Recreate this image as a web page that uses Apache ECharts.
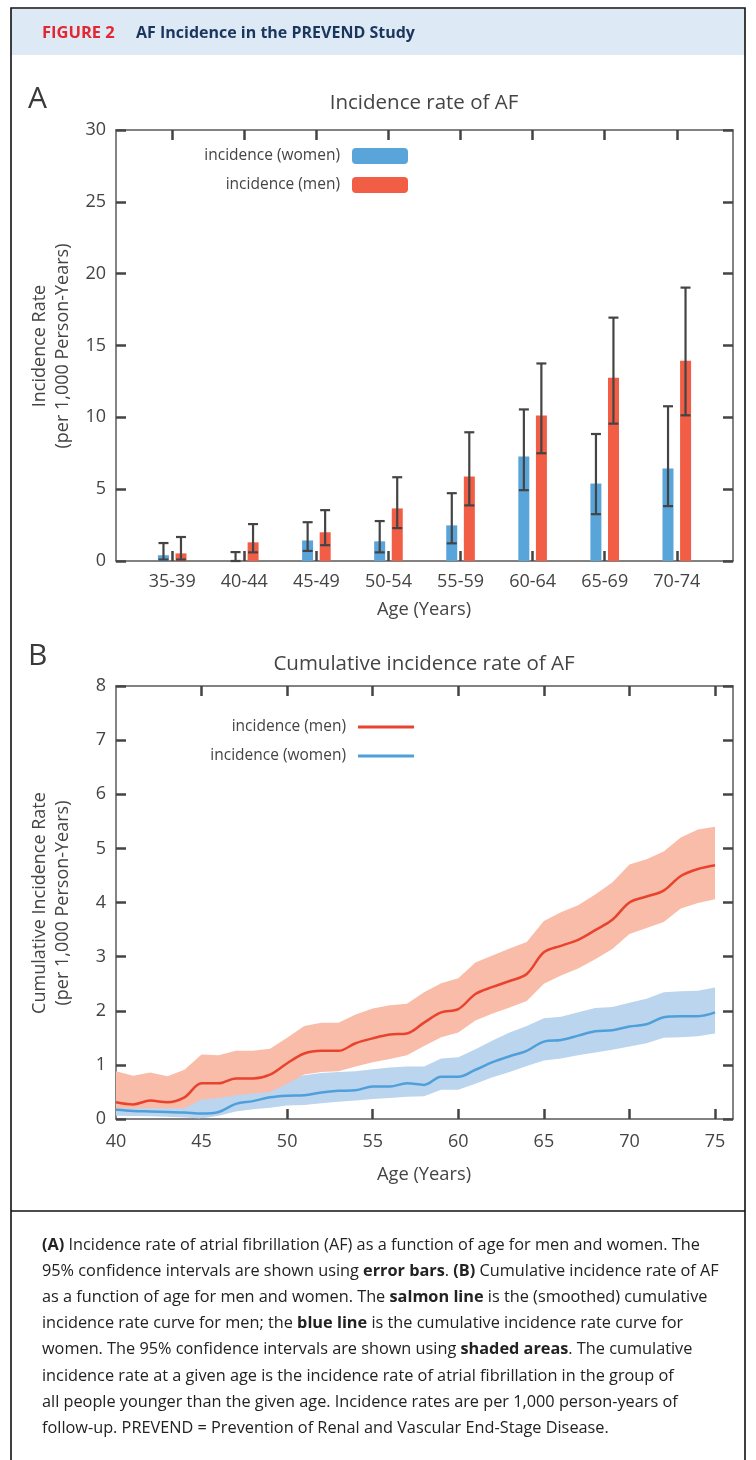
<!DOCTYPE html>
<html><head><meta charset="utf-8">
<script src="https://cdn.jsdelivr.net/npm/echarts@6/dist/echarts.min.js"></script>
<style>html,body{margin:0;padding:0;background:#fff;}#c{width:756px;height:1460px;}</style>
</head><body><div id="c"></div>
<script>
// ---------- Panel A data ----------
const ageGroups = ['35-39','40-44','45-49','50-54','55-59','60-64','65-69','70-74'];
const womenRate = [0.40, 0.00, 1.43, 1.37, 2.48, 7.27, 5.39, 6.44];
const womenLow  = [0.10, 0.00, 0.70, 0.60, 1.23, 4.93, 3.26, 3.82];
const womenHigh = [1.25, 0.62, 2.70, 2.78, 4.72, 10.55, 8.84, 10.77];
const menRate   = [0.53, 1.30, 2.00, 3.66, 5.88, 10.12, 12.75, 13.94];
const menLow    = [0.10, 0.60, 1.10, 2.29, 3.87, 7.50, 9.56, 10.14];
const menHigh   = [1.67, 2.57, 3.54, 5.83, 8.96, 13.75, 16.94, 19.03];

// ---------- Panel B data ----------
const ages = [40,41,42,43,44,45,46,47,48,49,50,51,52,53,54,55,56,57,58,59,60,61,62,63,64,65,66,67,68,69,70,71,72,73,74,75];
const menCum   = [0.31,0.27,0.34,0.31,0.40,0.66,0.66,0.75,0.75,0.82,1.03,1.21,1.26,1.26,1.40,1.49,1.56,1.58,1.78,1.97,2.03,2.31,2.44,2.55,2.68,3.08,3.20,3.31,3.49,3.68,4.00,4.11,4.22,4.49,4.62,4.69];
const menUpper = [0.88,0.80,0.86,0.79,0.91,1.19,1.18,1.26,1.26,1.30,1.50,1.72,1.78,1.78,1.93,2.04,2.10,2.13,2.34,2.51,2.60,2.89,3.02,3.15,3.27,3.66,3.82,3.95,4.15,4.37,4.70,4.80,4.94,5.20,5.35,5.40];
const menLower = [0.20,0.20,0.20,0.20,0.20,0.36,0.39,0.44,0.47,0.50,0.65,0.82,0.87,0.88,0.97,1.05,1.11,1.18,1.35,1.51,1.60,1.82,1.95,2.06,2.18,2.50,2.65,2.78,2.95,3.14,3.42,3.53,3.64,3.89,3.99,4.06];
const womenCum   = [0.17,0.15,0.14,0.13,0.12,0.10,0.13,0.28,0.33,0.40,0.43,0.44,0.49,0.52,0.53,0.60,0.60,0.66,0.63,0.78,0.78,0.91,1.05,1.16,1.26,1.43,1.46,1.54,1.62,1.64,1.71,1.75,1.88,1.90,1.90,1.97];
const womenUpper = [0.58,0.54,0.50,0.46,0.43,0.39,0.42,0.62,0.66,0.72,0.76,0.81,0.85,0.87,0.88,0.92,0.95,0.97,0.97,1.12,1.14,1.29,1.45,1.60,1.72,1.86,1.89,1.97,2.05,2.07,2.15,2.22,2.34,2.36,2.37,2.43];
const womenLower = [0.06,0.055,0.05,0.04,0.03,0.01,0.06,0.14,0.18,0.21,0.25,0.26,0.29,0.32,0.34,0.37,0.39,0.41,0.42,0.54,0.54,0.65,0.77,0.87,0.98,1.08,1.12,1.18,1.23,1.28,1.34,1.40,1.50,1.51,1.53,1.58];
const xTicksB = [40,45,50,55,60,65,70,75];

const legendNames = {
  'A-women':'incidence (women)', 'A-men':'incidence (men)',
  'B-men':'incidence (men)', 'B-women':'incidence (women)'
};

const FONT = 'Open Sans';
const TXT = '#444';
const FRAME = '#5a5a5a';
const TICK = '#444';
const BLUE = '#59a5da', RED = '#f15e45';
const LBLUE = '#4f9fdb', LRED = '#e8432f';

function frameAxis(opts) {
  return Object.assign({
    type: 'value',
    axisLine: {show: true, onZero: false, lineStyle: {color: FRAME, width: 1.5}},
    axisTick: {show: true, inside: true, length: 10, lineStyle: {color: TICK, width: 2.5}},
    axisLabel: {show: false},
    splitLine: {show: false}
  }, opts);
}

const catIdx = ageGroups.map((g, i) => i);

const xAxes = [
  frameAxis({gridIndex: 0, position: 'bottom', min: -0.78, max: 7.78,
    axisTick: {show: true, inside: true, length: 10, customValues: catIdx, lineStyle: {color: TICK, width: 2.5}},
    axisLabel: {show: true, customValues: catIdx, formatter: v => ageGroups[Math.round(v)], color: TXT, fontSize: 18, fontFamily: FONT, margin: 12}}),
  frameAxis({gridIndex: 0, position: 'top', min: -0.78, max: 7.78,
    axisTick: {show: true, inside: true, length: 10, customValues: catIdx, lineStyle: {color: TICK, width: 2.5}}}),
  frameAxis({gridIndex: 1, position: 'bottom', min: 40, max: 76.05,
    axisTick: {show: true, inside: true, length: 10, customValues: xTicksB.slice(1), lineStyle: {color: TICK, width: 2.5}},
    axisLabel: {show: true, customValues: xTicksB, color: TXT, fontSize: 18, fontFamily: FONT, margin: 14}}),
  frameAxis({gridIndex: 1, position: 'top', min: 40, max: 76.05,
    axisTick: {show: true, inside: true, length: 10, customValues: xTicksB.slice(1), lineStyle: {color: TICK, width: 2.5}}})
];
const yAxes = [
  frameAxis({gridIndex: 0, position: 'left', min: 0, max: 30, interval: 5,
    axisLabel: {show: true, color: TXT, fontSize: 18, fontFamily: FONT, margin: 10}}),
  frameAxis({gridIndex: 0, position: 'right', min: 0, max: 30, interval: 5}),
  frameAxis({gridIndex: 1, position: 'left', min: 0, max: 8, interval: 1,
    axisLabel: {show: true, color: TXT, fontSize: 18, fontFamily: FONT, margin: 10}}),
  frameAxis({gridIndex: 1, position: 'right', min: 0, max: 8, interval: 1})
];

function errRender(offset) {
  return function (params, api) {
    const x = api.value(0), lo = api.value(1), hi = api.value(2);
    const pLo = api.coord([x, lo]), pHi = api.coord([x, hi]);
    const cx = pLo[0] + offset, hw = 5;
    const st = {stroke: TICK, lineWidth: 2.2};
    return {type: 'group', children: [
      {type: 'line', shape: {x1: cx, y1: pLo[1], x2: cx, y2: pHi[1]}, style: st},
      {type: 'line', shape: {x1: cx - hw, y1: pHi[1], x2: cx + hw, y2: pHi[1]}, style: st},
      {type: 'line', shape: {x1: cx - hw, y1: pLo[1], x2: cx + hw, y2: pLo[1]}, style: st}
    ]};
  };
}

function bandRender(upper, lower, color) {
  return function (params, api) {
    if (params.dataIndex !== 0) return null;
    const pts = [];
    for (let i = 0; i < ages.length; i++) pts.push(api.coord([ages[i], upper[i]]));
    for (let i = ages.length - 1; i >= 0; i--) pts.push(api.coord([ages[i], lower[i]]));
    return {type: 'polygon', shape: {points: pts}, style: {fill: color, blend: 'multiply'}};
  };
}

const series = [
  {type: 'bar', name: 'A-women', xAxisIndex: 0, yAxisIndex: 0, barWidth: 11, barGap: '60%',
   data: catIdx.map(i => [i, womenRate[i]]), itemStyle: {color: BLUE}},
  {type: 'bar', name: 'A-men', xAxisIndex: 0, yAxisIndex: 0, barWidth: 11, barGap: '60%',
   data: catIdx.map(i => [i, menRate[i]]), itemStyle: {color: RED}},
  {type: 'custom', name: 'errW', xAxisIndex: 0, yAxisIndex: 0, z: 5, silent: true,
   renderItem: errRender(-8.75), encode: {x: 0, y: [1, 2]},
   data: catIdx.map(i => [i, womenLow[i], womenHigh[i]])},
  {type: 'custom', name: 'errM', xAxisIndex: 0, yAxisIndex: 0, z: 5, silent: true,
   renderItem: errRender(8.75), encode: {x: 0, y: [1, 2]},
   data: catIdx.map(i => [i, menLow[i], menHigh[i]])},
  {type: 'custom', name: 'bandW', xAxisIndex: 2, yAxisIndex: 2, silent: true, clip: true,
   renderItem: bandRender(womenUpper, womenLower, '#bcd5ee'), data: [[ages[0], womenCum[0]]]},
  {type: 'custom', name: 'bandM', xAxisIndex: 2, yAxisIndex: 2, silent: true, clip: true,
   renderItem: bandRender(menUpper, menLower, '#f9bca8'), data: [[ages[0], menCum[0]]]},
  {type: 'line', name: 'B-women', xAxisIndex: 2, yAxisIndex: 2, smooth: 0.35, symbol: 'none', z: 4,
   data: ages.map((a, i) => [a, womenCum[i]]), lineStyle: {color: LBLUE, width: 2.5}, itemStyle: {color: LBLUE}},
  {type: 'line', name: 'B-men', xAxisIndex: 2, yAxisIndex: 2, smooth: 0.35, symbol: 'none', z: 4,
   data: ages.map((a, i) => [a, menCum[i]]), lineStyle: {color: LRED, width: 2.5}, itemStyle: {color: LRED}}
];

const legendText = {color: TXT, fontSize: 15.5, fontFamily: FONT, padding: [0, 7, 0, 0]};
const legends = [
  {data: ['A-women', 'A-men'], orient: 'vertical', right: 348, top: 148, itemWidth: 56, itemHeight: 16,
   itemGap: 13, align: 'right', formatter: n => legendNames[n], textStyle: legendText, selectedMode: false, padding: 0},
  {data: [{name: 'B-men', icon: 'rect'}, {name: 'B-women', icon: 'rect'}], orient: 'vertical', right: 342, top: 719,
   itemWidth: 56, itemHeight: 3, itemGap: 13, align: 'right', formatter: n => legendNames[n],
   textStyle: legendText, selectedMode: false, padding: 0}
];

const caption = [
  '{b|(A)} Incidence rate of atrial fibrillation (AF) as a function of age for men and women. The',
  '95% confidence intervals are shown using {b|error bars}. {b|(B)} Cumulative incidence rate of AF',
  'as a function of age for men and women. The {b|salmon line} is the (smoothed) cumulative',
  'incidence rate curve for men; the {b|blue line} is the cumulative incidence rate curve for',
  'women. The 95% confidence intervals are shown using {b|shaded areas}. The cumulative',
  'incidence rate at a given age is the incidence rate of atrial fibrillation in the group of',
  'all people younger than the given age. Incidence rates are per 1,000 person-years of',
  'follow-up. PREVEND = Prevention of Renal and Vascular End-Stage Disease.'
];

const CAP = 16.3;
const graphics = [
  {type: 'rect', shape: {x: 11, y: 9, width: 734, height: 46}, style: {fill: '#dde9f5'}, silent: true},
  {type: 'rect', shape: {x: 11, y: 8, width: 734, height: 1470}, style: {fill: null, stroke: '#111', lineWidth: 1.6}, silent: true},
  {type: 'line', shape: {x1: 11, y1: 1211, x2: 745, y2: 1211}, style: {stroke: '#111', lineWidth: 1.6}, silent: true},
  {type: 'text', x: 42, y: 33, silent: true, style: {text: 'FIGURE 2', fill: '#e3262f', font: 'bold 16.5px ' + FONT, verticalAlign: 'middle'}},
  {type: 'text', x: 136, y: 33, silent: true, style: {text: 'AF Incidence in the PREVEND Study', fill: '#1b365d', font: 'bold 16px ' + FONT, verticalAlign: 'middle'}},
  {type: 'text', x: 28, y: 99, silent: true, style: {text: 'A', fill: '#3a3a3a', font: '30px ' + FONT, verticalAlign: 'middle'}},
  {type: 'text', x: 28, y: 656, silent: true, style: {text: 'B', fill: '#3a3a3a', font: '30px ' + FONT, verticalAlign: 'middle'}},
  {type: 'text', x: 424, y: 103, silent: true, style: {text: 'Incidence rate of AF', fill: TXT, font: '20.5px ' + FONT, align: 'center', verticalAlign: 'middle'}},
  {type: 'text', x: 424, y: 664, silent: true, style: {text: 'Cumulative incidence rate of AF', fill: TXT, font: '20.5px ' + FONT, align: 'center', verticalAlign: 'middle'}},
  {type: 'text', x: 424, y: 610, silent: true, style: {text: 'Age (Years)', fill: TXT, font: '18.3px ' + FONT, align: 'center', verticalAlign: 'middle'}},
  {type: 'text', x: 424, y: 1175, silent: true, style: {text: 'Age (Years)', fill: TXT, font: '18.3px ' + FONT, align: 'center', verticalAlign: 'middle'}},
  {type: 'text', x: 51, y: 346, rotation: Math.PI / 2, silent: true, style: {text: 'Incidence Rate\n(per 1,000 Person-Years)', fill: TXT, font: '18px ' + FONT, lineHeight: 23, align: 'center', verticalAlign: 'middle'}},
  {type: 'text', x: 51, y: 903, rotation: Math.PI / 2, silent: true, style: {text: 'Cumulative Incidence Rate\n(per 1,000 Person-Years)', fill: TXT, font: '18px ' + FONT, lineHeight: 23, align: 'center', verticalAlign: 'middle'}}
];
caption.forEach((line, i) => {
  graphics.push({type: 'text', x: 42, y: 1245 + i * 26.2, silent: true, style: {
    text: line, fill: '#222', font: CAP + 'px ' + FONT, verticalAlign: 'middle',
    rich: {b: {font: 'bold ' + CAP + 'px ' + FONT, fill: '#222'}}}});
});

const chart = echarts.init(document.getElementById('c'), null, {renderer: 'canvas'});
chart.setOption({
  animation: false,
  backgroundColor: '#fff',
  textStyle: {fontFamily: FONT},
  grid: [
    {left: 116, right: 23, top: 130, height: 431},
    {left: 116, right: 23, top: 686, height: 433}
  ],
  xAxis: xAxes,
  yAxis: yAxes,
  legend: legends,
  series: series,
  graphic: graphics
});
</script></body></html>
